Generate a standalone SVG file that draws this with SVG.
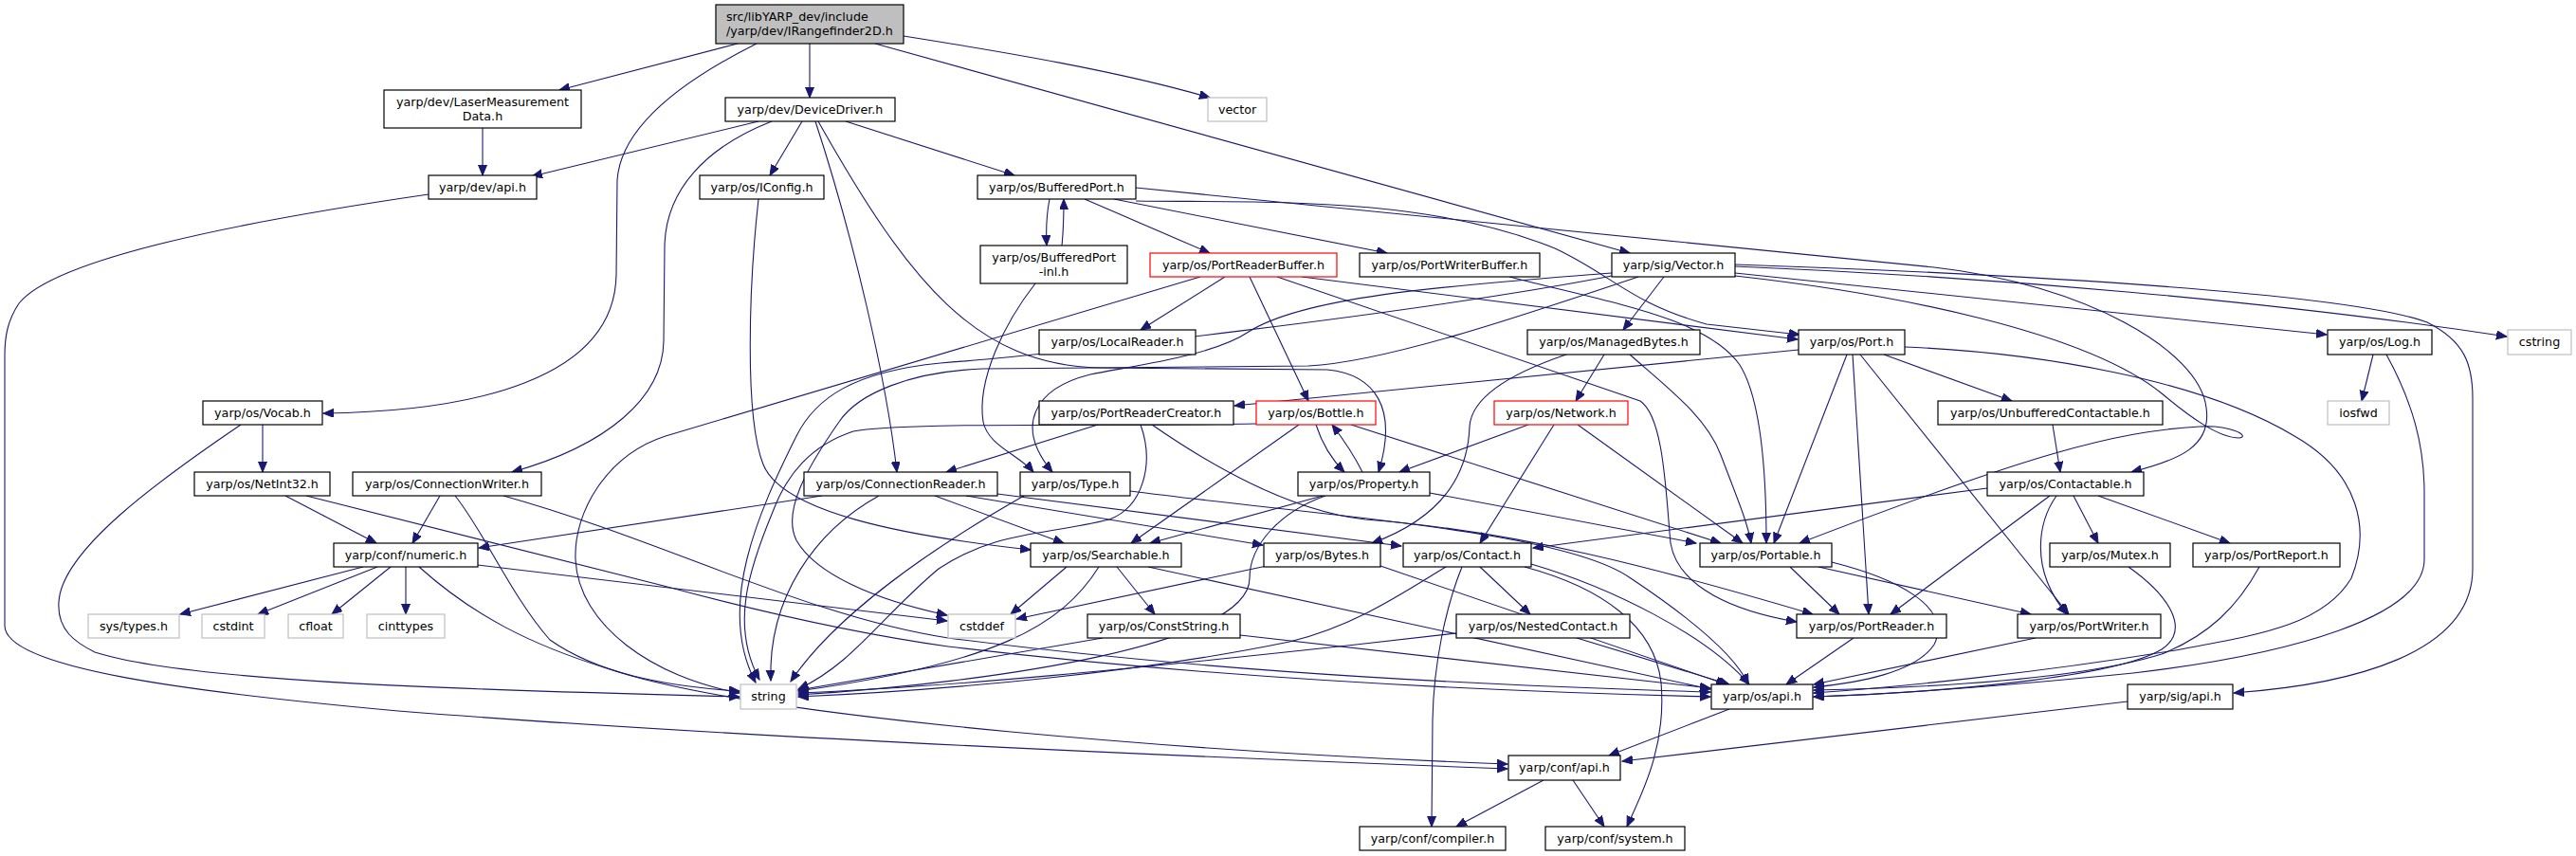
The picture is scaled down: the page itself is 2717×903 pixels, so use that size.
<svg xmlns="http://www.w3.org/2000/svg" width="2717" height="903" viewBox="0 0 2717 903">
<defs>
<marker id="a" markerUnits="userSpaceOnUse" markerWidth="12" markerHeight="10" refX="11" refY="4.5" orient="auto">
<path d="M0,0 L11,4.5 L0,9 z" fill="#191970" stroke="#191970" stroke-width="1"/>
</marker>
<style>
.n rect{fill:#fff;stroke:#000;stroke-width:1.2}
.r rect{stroke:#ff0000}
.g rect{stroke:#bfbfbf}
.root rect{fill:#bfbfbf}
text{font-family:"DejaVu Sans","Liberation Sans",sans-serif;font-size:12.7px;fill:#000;text-anchor:middle}
.root text{text-anchor:start}
#edges path{fill:none;stroke:#191970;stroke-width:1.1;marker-end:url(#a)}
</style>
</defs>
<rect width="2717" height="903" fill="#fff"/>
<g id="edges">
<path d="M778,46 L590,95"/>
<path d="M798,46 C730,80 655,130 651,190 L650,290 C648,400 500,434 341,436"/>
<path d="M854,46 L854,103"/>
<path d="M953,38 C1060,55 1180,75 1276,103"/>
<path d="M923,46 L1719,267"/>
<path d="M509,135 L509,185"/>
<path d="M800,128 L561,186"/>
<path d="M814,128 C745,155 702,200 701,260 L700,360 C699,420 640,470 540,498"/>
<path d="M846,128 L812,185"/>
<path d="M860,128 C900,250 935,400 946,498"/>
<path d="M863,128 C960,300 1030,385 1160,388 L1400,390 C1450,395 1475,430 1454,498"/>
<path d="M892,128 L1070,185"/>
<path d="M800,210 C790,300 785,440 805,490 C825,540 950,565 1087,580"/>
<path d="M1107,210 C1104,225 1103,240 1104,259"/>
<path d="M1120,259 C1122,240 1122,225 1122,210"/>
<path d="M1144,210 L1276,267"/>
<path d="M1175,210 L1463,267"/>
<path d="M1198,212 C1320,214 1500,205 1640,262 C1700,290 1720,320 1800,342 L1898,353"/>
<path d="M1198,198 L2040,282 C2200,300 2320,370 2327,430 C2333,470 2300,485 2248,498"/>
<path d="M1092,299 C1060,340 1030,400 1037,445 C1042,470 1075,480 1090,498"/>
<path d="M1292,292 L1203,348"/>
<path d="M1266,292 L702,460 C640,480 605,540 607,590 C610,660 690,715 780,731"/>
<path d="M1318,292 L1380,423"/>
<path d="M1373,292 L1896,358"/>
<path d="M1347,292 L1730,423 C1755,440 1757,520 1762,573 C1770,620 1830,645 1895,656"/>
<path d="M1592,292 C1700,320 1800,335 1835,385 C1860,425 1863,520 1863,573"/>
<path d="M1755,292 L1712,348"/>
<path d="M1830,288 L2454,353"/>
<path d="M1830,281 C2100,292 2400,318 2644,355"/>
<path d="M1830,279 C2150,290 2480,310 2560,340 C2600,360 2608,385 2608,420 L2608,600 C2608,690 2480,722 2356,731"/>
<path d="M1830,291 C2000,310 2200,350 2280,415 C2310,440 2340,462 2362,462 C2374,460 2352,448 2320,450 C2230,455 2140,480 1898,573"/>
<path d="M1700,288 C1550,300 1380,310 1317,350 C1280,375 1200,385 1150,395 C1090,410 1070,450 1110,498"/>
<path d="M1700,291 C1500,330 1100,375 992,383 C900,392 860,420 840,460 C800,540 755,640 797,720"/>
<path d="M1728,292 C1600,335 1460,382 1380,386 L1037,389 C960,392 905,415 885,445 C850,495 825,540 840,570 C860,605 920,632 999,649"/>
<path d="M1325,447 C1150,450 950,445 900,455 C855,470 830,500 815,540 C790,600 770,660 801,717"/>
<path d="M1692,374 L1662,423"/>
<path d="M1652,374 C1590,395 1552,420 1550,450 C1548,510 1510,550 1447,573"/>
<path d="M1719,374 C1760,410 1800,440 1815,480 C1830,520 1843,550 1847,573"/>
<path d="M1897,369 L1302,428"/>
<path d="M2009,366 C2150,372 2320,400 2420,460 C2490,500 2500,560 2480,610 C2450,660 2380,670 2300,685 C2150,710 2000,725 1913,731"/>
<path d="M1987,374 L2122,423"/>
<path d="M1948,374 L1871,573"/>
<path d="M1954,374 L1971,648"/>
<path d="M1962,374 L2182,648"/>
<path d="M2503,374 L2491,423"/>
<path d="M2517,374 C2545,425 2557,470 2557,520 L2557,590 C2557,650 2420,690 2250,710 C2100,725 2000,732 1913,735"/>
<path d="M277,448 L277,498"/>
<path d="M254,448 C170,505 65,580 62,635 C60,665 80,678 100,688 C200,720 500,728 780,735"/>
<path d="M452,205 C280,230 60,270 20,320 C8,338 5,355 5,375 L5,660 C5,705 200,730 420,750 C800,780 1300,800 1590,811"/>
<path d="M301,523 L397,573"/>
<path d="M323,523 L700,618 C800,645 900,668 1000,682 C1300,718 1600,730 1804,735"/>
<path d="M464,523 L435,573"/>
<path d="M480,523 C510,560 540,630 580,675 C630,710 700,724 780,729"/>
<path d="M531,523 C700,570 850,650 1000,673 C1300,712 1600,724 1804,730"/>
<path d="M867,523 L505,578"/>
<path d="M927,523 C860,560 810,630 813,718"/>
<path d="M986,523 L1122,573"/>
<path d="M1019,523 L1332,575"/>
<path d="M1052,521 L1478,576"/>
<path d="M1080,523 C980,580 880,650 834,719"/>
<path d="M1192,518 C1400,545 1650,560 1720,610 C1780,650 1830,690 1844,722"/>
<path d="M1125,598 L1066,648"/>
<path d="M1159,598 C1120,660 1050,700 842,729"/>
<path d="M1178,598 L1218,648"/>
<path d="M1211,598 L1804,727"/>
<path d="M1336,597 L1072,653"/>
<path d="M1456,597 L1821,722"/>
<path d="M1561,598 L1614,648"/>
<path d="M1542,598 C1525,640 1512,700 1511,760 L1510,872"/>
<path d="M1608,598 C1690,620 1745,660 1752,720 C1758,790 1730,840 1716,872"/>
<path d="M1525,598 C1480,625 1430,660 1360,677 C1200,710 1000,728 842,735"/>
<path d="M1615,595 C1700,620 1800,670 1845,722"/>
<path d="M1663,673 L1824,722"/>
<path d="M1536,668 L1430,680 C1200,705 1000,725 842,731"/>
<path d="M1158,448 L998,498"/>
<path d="M1203,448 C1218,490 1205,535 1170,548 C1100,565 1050,560 990,600 C930,650 900,700 842,727"/>
<path d="M1215,448 C1290,500 1370,540 1440,548 C1600,560 1750,600 1912,648"/>
<path d="M1370,448 L1193,573"/>
<path d="M1388,448 C1395,470 1405,485 1418,498"/>
<path d="M1437,498 C1428,480 1418,465 1405,448"/>
<path d="M1425,448 L1815,573"/>
<path d="M1612,448 L1476,498"/>
<path d="M1639,448 L1561,573"/>
<path d="M1664,448 L1838,573"/>
<path d="M1395,523 L1213,573"/>
<path d="M1508,520 L1789,573"/>
<path d="M1398,523 C1350,540 1318,575 1318,610 C1318,680 1050,720 842,733"/>
<path d="M2096,515 L1617,578"/>
<path d="M2162,523 L1994,648"/>
<path d="M2169,523 C2150,550 2140,600 2180,648"/>
<path d="M2187,523 L2213,573"/>
<path d="M2213,523 L2352,573"/>
<path d="M2165,448 L2173,498"/>
<path d="M383,598 L190,648"/>
<path d="M398,598 L272,648"/>
<path d="M412,598 L350,648"/>
<path d="M428,598 L428,648"/>
<path d="M504,596 L999,655"/>
<path d="M442,598 C500,650 560,680 640,705 C800,760 1300,795 1590,806"/>
<path d="M2245,598 C2290,630 2310,665 2280,685 C2230,715 2050,730 1913,735"/>
<path d="M2383,598 C2360,640 2330,670 2280,690 C2200,715 2050,725 1913,728"/>
<path d="M2147,673 L1913,722"/>
<path d="M1888,598 L1940,648"/>
<path d="M1918,598 L2142,648"/>
<path d="M1932,593 C2000,610 2060,640 2040,680 C2020,710 1960,720 1913,725"/>
<path d="M1955,673 L1884,722"/>
<path d="M1824,748 L1697,797"/>
<path d="M2244,740 L1711,803"/>
<path d="M1628,823 L1536,872"/>
<path d="M1659,823 L1692,872"/>
<path d="M1163,673 L842,728"/>
<path d="M1308,670 L1804,726"/>
</g>
<g id="n-root" class="n root"><rect x="755" y="5" width="198" height="41"/><text x="766" y="22">src/libYARP_dev/include</text><text x="766" y="37">/yarp/dev/IRangefinder2D.h</text></g>
<g id="n-laser" class="n"><rect x="405" y="95" width="208" height="40"/><text x="509" y="112">yarp/dev/LaserMeasurement</text><text x="509" y="127">Data.h</text></g>
<g id="n-devdrv" class="n"><rect x="765" y="103" width="179" height="25"/><text x="854.5" y="119.5">yarp/dev/DeviceDriver.h</text></g>
<g id="n-vector" class="n g"><rect x="1274" y="103" width="62" height="25"/><text x="1305" y="119.5">vector</text></g>
<g id="n-devapi" class="n"><rect x="452" y="185" width="114" height="25"/><text x="509" y="201.5">yarp/dev/api.h</text></g>
<g id="n-iconfig" class="n"><rect x="738" y="185" width="131" height="25"/><text x="803.5" y="201.5">yarp/os/IConfig.h</text></g>
<g id="n-bport" class="n"><rect x="1031" y="185" width="167" height="25"/><text x="1114.5" y="201.5">yarp/os/BufferedPort.h</text></g>
<g id="n-bportinl" class="n"><rect x="1034" y="259" width="155" height="40"/><text x="1111.5" y="276">yarp/os/BufferedPort</text><text x="1111.5" y="291">-inl.h</text></g>
<g id="n-prb" class="n r"><rect x="1213" y="267" width="197" height="25"/><text x="1311.5" y="283.5">yarp/os/PortReaderBuffer.h</text></g>
<g id="n-pwb" class="n"><rect x="1434" y="267" width="190" height="25"/><text x="1529" y="283.5">yarp/os/PortWriterBuffer.h</text></g>
<g id="n-sigvec" class="n"><rect x="1700" y="267" width="130" height="25"/><text x="1765" y="283.5">yarp/sig/Vector.h</text></g>
<g id="n-localreader" class="n"><rect x="1096" y="348" width="165" height="26"/><text x="1178.5" y="365">yarp/os/LocalReader.h</text></g>
<g id="n-managedbytes" class="n"><rect x="1611" y="348" width="182" height="26"/><text x="1702" y="365">yarp/os/ManagedBytes.h</text></g>
<g id="n-port" class="n"><rect x="1897" y="348" width="112" height="26"/><text x="1953" y="365">yarp/os/Port.h</text></g>
<g id="n-log" class="n"><rect x="2455" y="348" width="110" height="26"/><text x="2510" y="365">yarp/os/Log.h</text></g>
<g id="n-cstring" class="n g"><rect x="2645" y="348" width="67" height="26"/><text x="2678.5" y="365">cstring</text></g>
<g id="n-vocab" class="n"><rect x="214" y="423" width="126" height="25"/><text x="277" y="439.5">yarp/os/Vocab.h</text></g>
<g id="n-prc" class="n"><rect x="1096" y="423" width="205" height="25"/><text x="1198.5" y="439.5">yarp/os/PortReaderCreator.h</text></g>
<g id="n-bottle" class="n r"><rect x="1325" y="423" width="126" height="25"/><text x="1388" y="439.5">yarp/os/Bottle.h</text></g>
<g id="n-network" class="n r"><rect x="1576" y="423" width="141" height="25"/><text x="1646.5" y="439.5">yarp/os/Network.h</text></g>
<g id="n-unbuf" class="n"><rect x="2044" y="423" width="237" height="25"/><text x="2162.5" y="439.5">yarp/os/UnbufferedContactable.h</text></g>
<g id="n-iosfwd" class="n g"><rect x="2455" y="423" width="65" height="25"/><text x="2487.5" y="439.5">iosfwd</text></g>
<g id="n-netint" class="n"><rect x="205" y="498" width="143" height="25"/><text x="276.5" y="514.5">yarp/os/NetInt32.h</text></g>
<g id="n-connwriter" class="n"><rect x="372" y="498" width="199" height="25"/><text x="471.5" y="514.5">yarp/os/ConnectionWriter.h</text></g>
<g id="n-connreader" class="n"><rect x="848" y="498" width="204" height="25"/><text x="950" y="514.5">yarp/os/ConnectionReader.h</text></g>
<g id="n-type" class="n"><rect x="1076" y="498" width="116" height="25"/><text x="1134" y="514.5">yarp/os/Type.h</text></g>
<g id="n-property" class="n"><rect x="1369" y="498" width="139" height="25"/><text x="1438.5" y="514.5">yarp/os/Property.h</text></g>
<g id="n-contactable" class="n"><rect x="2096" y="498" width="165" height="25"/><text x="2178.5" y="514.5">yarp/os/Contactable.h</text></g>
<g id="n-numeric" class="n"><rect x="352" y="573" width="152" height="25"/><text x="428" y="589.5">yarp/conf/numeric.h</text></g>
<g id="n-searchable" class="n"><rect x="1087" y="573" width="159" height="25"/><text x="1166.5" y="589.5">yarp/os/Searchable.h</text></g>
<g id="n-bytes" class="n"><rect x="1333" y="573" width="123" height="25"/><text x="1394.5" y="589.5">yarp/os/Bytes.h</text></g>
<g id="n-contact" class="n"><rect x="1480" y="573" width="135" height="25"/><text x="1547.5" y="589.5">yarp/os/Contact.h</text></g>
<g id="n-portable" class="n"><rect x="1793" y="573" width="139" height="25"/><text x="1862.5" y="589.5">yarp/os/Portable.h</text></g>
<g id="n-mutex" class="n"><rect x="2162" y="573" width="127" height="25"/><text x="2225.5" y="589.5">yarp/os/Mutex.h</text></g>
<g id="n-portreport" class="n"><rect x="2313" y="573" width="155" height="25"/><text x="2390.5" y="589.5">yarp/os/PortReport.h</text></g>
<g id="n-systypes" class="n g"><rect x="93" y="648" width="96" height="25"/><text x="141" y="664.5">sys/types.h</text></g>
<g id="n-cstdint" class="n g"><rect x="213" y="648" width="66" height="25"/><text x="246" y="664.5">cstdint</text></g>
<g id="n-cfloat" class="n g"><rect x="304" y="648" width="58" height="25"/><text x="333" y="664.5">cfloat</text></g>
<g id="n-cinttypes" class="n g"><rect x="387" y="648" width="82" height="25"/><text x="428" y="664.5">cinttypes</text></g>
<g id="n-cstddef" class="n g"><rect x="1000" y="648" width="71" height="25"/><text x="1035.5" y="664.5">cstddef</text></g>
<g id="n-conststring" class="n"><rect x="1147" y="648" width="161" height="25"/><text x="1227.5" y="664.5">yarp/os/ConstString.h</text></g>
<g id="n-nested" class="n"><rect x="1536" y="648" width="183" height="25"/><text x="1627.5" y="664.5">yarp/os/NestedContact.h</text></g>
<g id="n-portreader" class="n"><rect x="1895" y="648" width="158" height="25"/><text x="1974" y="664.5">yarp/os/PortReader.h</text></g>
<g id="n-portwriter" class="n"><rect x="2128" y="648" width="151" height="25"/><text x="2203.5" y="664.5">yarp/os/PortWriter.h</text></g>
<g id="n-string" class="n g"><rect x="781" y="722" width="59" height="26"/><text x="810.5" y="739">string</text></g>
<g id="n-osapi" class="n"><rect x="1805" y="722" width="107" height="26"/><text x="1858.5" y="739">yarp/os/api.h</text></g>
<g id="n-sigapi" class="n"><rect x="2244" y="722" width="111" height="26"/><text x="2299.5" y="739">yarp/sig/api.h</text></g>
<g id="n-confapi" class="n"><rect x="1591" y="797" width="118" height="26"/><text x="1650" y="814">yarp/conf/api.h</text></g>
<g id="n-compiler" class="n"><rect x="1434" y="872" width="154" height="25"/><text x="1511" y="888.5">yarp/conf/compiler.h</text></g>
<g id="n-system" class="n"><rect x="1630" y="872" width="147" height="25"/><text x="1703.5" y="888.5">yarp/conf/system.h</text></g>
</svg>
